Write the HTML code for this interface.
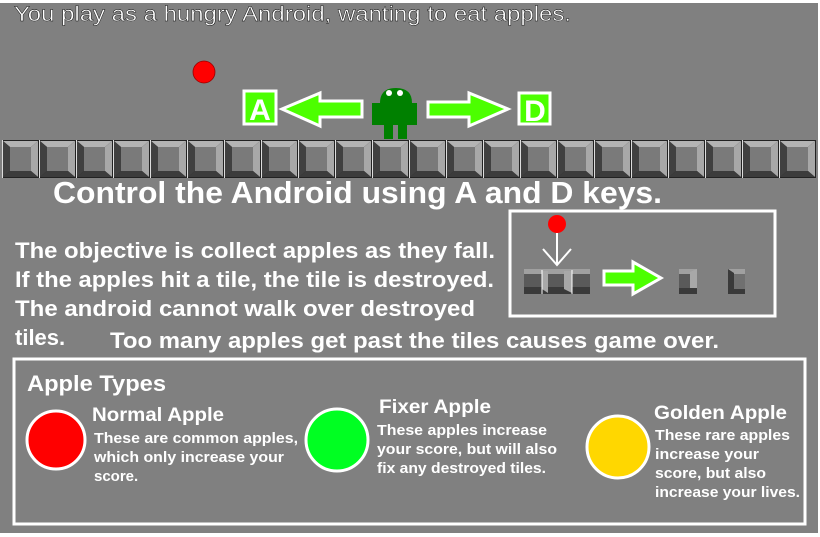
<!DOCTYPE html>
<html><head><meta charset="utf-8"><style>
html,body{margin:0;padding:0;background:#fff;width:820px;height:537px;overflow:hidden}
svg{display:block}
text{font-family:"Liberation Sans",Arial,sans-serif;fill:#fff}
</style></head><body>
<svg width="820" height="537" viewBox="0 0 820 537" xmlns="http://www.w3.org/2000/svg">
<defs>
<g id="tile">
<rect x="0" y="0" width="37" height="38" fill="#222"/>
<polygon points="1,1 36,1 29,7 8,7" fill="#b4b4b4"/>
<polygon points="1,1 8,7 8,31 1,37" fill="#404040"/>
<polygon points="36,1 36,37 29,31 29,7" fill="#a8a8a8"/>
<polygon points="1,37 8,31 29,31 36,37" fill="#3c3c3c"/>
<rect x="8" y="7" width="21" height="24" fill="#7a7a7a"/>
<line x1="0.5" y1="0" x2="0.5" y2="38" stroke="#ddd" stroke-width="1"/>
</g>
</defs>
<rect x="0" y="3" width="818" height="530" fill="#808080"/>
<text x="14" y="21" font-size="21" textLength="557" lengthAdjust="spacingAndGlyphs" fill="#fff" stroke="#000" stroke-width="0.4">You play as a hungry Android, wanting to eat apples.</text>
<circle cx="204" cy="72" r="11" fill="#f00" stroke="#900" stroke-width="0.8"/>
<rect x="244" y="91" width="32" height="33" fill="#4cff00" stroke="#fff" stroke-width="3"/>
<text x="260" y="120" font-size="30" font-weight="bold" text-anchor="middle">A</text>
<polygon points="282,109 320,93 320,101 362,101 362,117 320,117 320,126" fill="#4cff00" stroke="#fff" stroke-width="3"/>
<rect x="519" y="93" width="31" height="31" fill="#4cff00" stroke="#fff" stroke-width="3"/>
<text x="535" y="121" font-size="30" font-weight="bold" text-anchor="middle">D</text>
<polygon points="428,102 469,102 469,93 508,109 469,126 469,117 428,117" fill="#4cff00" stroke="#fff" stroke-width="3"/>
<g fill="#008000">
<path d="M380,103 Q380,88 396,88 Q412,88 412,103 Z"/>
<rect x="372" y="103" width="45" height="22"/>
<rect x="384" y="125" width="9" height="14"/>
<rect x="398" y="125" width="9" height="14"/>
</g>
<circle cx="389" cy="93" r="3" fill="#fff"/>
<circle cx="400" cy="93" r="3" fill="#fff"/>
<g>
<use href="#tile" x="2" y="140"/><use href="#tile" x="39" y="140"/><use href="#tile" x="76" y="140"/><use href="#tile" x="113" y="140"/><use href="#tile" x="150" y="140"/><use href="#tile" x="187" y="140"/><use href="#tile" x="224" y="140"/><use href="#tile" x="261" y="140"/><use href="#tile" x="298" y="140"/><use href="#tile" x="335" y="140"/><use href="#tile" x="372" y="140"/><use href="#tile" x="409" y="140"/><use href="#tile" x="446" y="140"/><use href="#tile" x="483" y="140"/><use href="#tile" x="520" y="140"/><use href="#tile" x="557" y="140"/><use href="#tile" x="594" y="140"/><use href="#tile" x="631" y="140"/><use href="#tile" x="668" y="140"/><use href="#tile" x="705" y="140"/><use href="#tile" x="742" y="140"/><use href="#tile" x="779" y="140"/>
</g>
<text x="53" y="203" font-size="31" font-weight="bold" textLength="609" lengthAdjust="spacingAndGlyphs">Control the Android using A and D keys.</text>
<text x="15" y="258" font-size="22" font-weight="bold" textLength="480" lengthAdjust="spacingAndGlyphs">The objective is collect apples as they fall.</text>
<text x="15" y="287" font-size="22" font-weight="bold" textLength="479" lengthAdjust="spacingAndGlyphs">If the apples hit a tile, the tile is destroyed.</text>
<text x="15" y="316" font-size="22" font-weight="bold" textLength="460" lengthAdjust="spacingAndGlyphs">The android cannot walk over destroyed</text>
<text x="15" y="345" font-size="22" font-weight="bold">tiles.</text>
<text x="110" y="348" font-size="22" font-weight="bold" textLength="609" lengthAdjust="spacingAndGlyphs">Too many apples get past the tiles causes game over.</text>
<rect x="510" y="211" width="265" height="105" fill="none" stroke="#fff" stroke-width="3"/>
<circle cx="557" cy="224" r="9" fill="#f00"/>
<line x1="557" y1="233" x2="557" y2="265" stroke="#fff" stroke-width="2"/>
<polyline points="543,249 557,265 571,249" fill="none" stroke="#fff" stroke-width="2"/>
<g>
<rect x="524" y="269" width="66" height="25" fill="#5a5a5a"/>
<rect x="524" y="269" width="66" height="5" fill="#a0a0a0"/>
<rect x="524" y="287" width="66" height="7" fill="#3a3a3a"/>
<polygon points="542,271 548,271 548,293 542,289" fill="#a8a8a8"/>
<polygon points="564,271 572,271 572,293 564,289" fill="#a8a8a8"/>
<line x1="542" y1="270" x2="542" y2="294" stroke="#fff"/>
<line x1="572" y1="270" x2="572" y2="294" stroke="#fff"/>
</g>
<polygon points="604,271 633,271 633,262 661,278 633,294 633,285 604,285" fill="#4cff00" stroke="#fff" stroke-width="3"/>
<g>
<rect x="679" y="269" width="18" height="25" fill="#5a5a5a"/>
<rect x="679" y="269" width="18" height="5" fill="#a0a0a0"/>
<polygon points="690,272 697,269 697,294 690,289" fill="#a8a8a8"/>
<rect x="679" y="288" width="18" height="6" fill="#3a3a3a"/>
<rect x="728" y="269" width="17" height="25" fill="#707070"/>
<rect x="728" y="269" width="17" height="5" fill="#a0a0a0"/>
<polygon points="728,269 734,273 734,289 728,294" fill="#3a3a3a"/>
<rect x="728" y="289" width="17" height="5" fill="#3a3a3a"/>
</g>
<rect x="14" y="359" width="791" height="165" fill="none" stroke="#fff" stroke-width="3"/>
<text x="27" y="391" font-size="22" font-weight="bold" textLength="139" lengthAdjust="spacingAndGlyphs">Apple Types</text>
<circle cx="56" cy="440" r="29" fill="#f00" stroke="#fff" stroke-width="3"/>
<text x="92" y="421" font-size="19" font-weight="bold" textLength="132" lengthAdjust="spacingAndGlyphs">Normal Apple</text>
<text x="94" y="443" font-size="15" font-weight="bold" textLength="204" lengthAdjust="spacingAndGlyphs">These are common apples,</text>
<text x="94" y="462" font-size="15" font-weight="bold" textLength="190" lengthAdjust="spacingAndGlyphs">which only increase your</text>
<text x="94" y="481" font-size="15" font-weight="bold">score.</text>
<circle cx="337" cy="440" r="31" fill="#00ff22" stroke="#fff" stroke-width="3"/>
<text x="379" y="413" font-size="19" font-weight="bold" textLength="112" lengthAdjust="spacingAndGlyphs">Fixer Apple</text>
<text x="377" y="435" font-size="15" font-weight="bold" textLength="170" lengthAdjust="spacingAndGlyphs">These apples increase</text>
<text x="377" y="454" font-size="15" font-weight="bold" textLength="180" lengthAdjust="spacingAndGlyphs">your score, but will also</text>
<text x="377" y="473" font-size="15" font-weight="bold" textLength="169" lengthAdjust="spacingAndGlyphs">fix any destroyed tiles.</text>
<circle cx="618" cy="447" r="31" fill="#ffd700" stroke="#fff" stroke-width="3"/>
<text x="654" y="419" font-size="19" font-weight="bold" textLength="133" lengthAdjust="spacingAndGlyphs">Golden Apple</text>
<text x="655" y="440" font-size="15" font-weight="bold" textLength="135" lengthAdjust="spacingAndGlyphs">These rare apples</text>
<text x="655" y="459" font-size="15" font-weight="bold" textLength="104" lengthAdjust="spacingAndGlyphs">increase your</text>
<text x="655" y="478" font-size="15" font-weight="bold" textLength="111" lengthAdjust="spacingAndGlyphs">score, but also</text>
<text x="655" y="497" font-size="15" font-weight="bold" textLength="145" lengthAdjust="spacingAndGlyphs">increase your lives.</text>
</svg>
</body></html>
